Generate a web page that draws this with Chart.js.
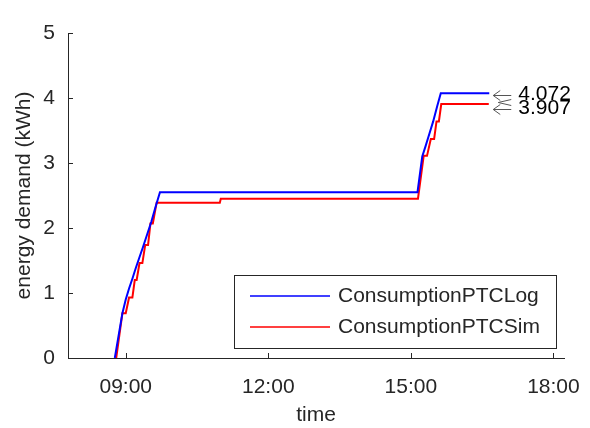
<!DOCTYPE html>
<html>
<head>
<meta charset="utf-8">
<script src="https://cdn.jsdelivr.net/npm/chart.js@4"></script>
<style>
  body { margin: 0; background: #fff; }
</style>
</head>
<body>
<canvas id="energyChart" width="590" height="428"></canvas>
<script>
    // time in hours of the day, energy in kWh
    const logTime = [8.77, 8.93, 9.00, 9.07, 9.14, 9.21, 9.28, 9.36, 9.45, 9.54, 9.63, 9.72, 15.14, 15.24, 15.31, 15.39, 15.47, 15.55, 15.63, 16.65];
    const logKwh  = [0, 0.69, 0.90, 1.07, 1.22, 1.38, 1.53, 1.70, 1.90, 2.10, 2.33, 2.55, 2.55, 3.10, 3.26, 3.45, 3.64, 3.86, 4.072, 4.072];

    const simTime = [8.80, 8.93, 9.00, 9.07, 9.14, 9.19, 9.23, 9.29, 9.35, 9.41, 9.47, 9.52, 9.57, 9.65, 10.98, 11.00, 15.15, 15.27, 15.34, 15.42, 15.49, 15.54, 15.59, 15.64, 16.64];
    const simKwh  = [0, 0.69, 0.69, 0.93, 0.93, 1.20, 1.20, 1.46, 1.46, 1.74, 1.74, 2.07, 2.07, 2.39, 2.39, 2.45, 2.45, 3.11, 3.11, 3.37, 3.37, 3.64, 3.64, 3.907, 3.907];

    const xTicks = [9, 12, 15, 18];
    const xTickLabels = ['09:00', '12:00', '15:00', '18:00'];
    const endValues = [4.072, 3.907];

    const FONT = '"Liberation Sans", Arial, sans-serif';
    const INK = '#262626';
    Chart.defaults.font.family = FONT;
    Chart.defaults.font.size = 21;
    Chart.defaults.color = INK;

    const toPoints = (xs, ys) => xs.map((x, i) => ({ x: x, y: ys[i] }));

    // ticks inside the axes, boxed legend and end-value arrows (MATLAB look)
    const matlabExtras = {
        id: 'matlabExtras',
        afterDraw(chart) {
            const ctx = chart.ctx;
            const xs = chart.scales.x, ys = chart.scales.y;
            const area = chart.chartArea;
            ctx.save();
            ctx.strokeStyle = INK;
            ctx.lineWidth = 1;
            ctx.beginPath();
            xTicks.forEach(v => {
                const px = Math.round(xs.getPixelForValue(v)) + 0.5;
                ctx.moveTo(px, area.bottom);
                ctx.lineTo(px, area.bottom - 5);
            });
            ys.ticks.forEach(t => {
                const py = Math.round(ys.getPixelForValue(t.value)) + 0.5;
                ctx.moveTo(area.left, py);
                ctx.lineTo(area.left + 5, py);
            });
            ctx.stroke();

            // legend
            const box = { x: 234.5, y: 275.5, w: 322, h: 73 };
            ctx.fillStyle = '#fff';
            ctx.fillRect(box.x, box.y, box.w, box.h);
            ctx.strokeRect(box.x, box.y, box.w, box.h);
            ctx.font = '21px ' + FONT;
            ctx.textBaseline = 'middle';
            chart.data.datasets.forEach((ds, i) => {
                const ly = 296 + i * 31;
                ctx.strokeStyle = ds.borderColor;
                ctx.lineWidth = 1.5;
                ctx.beginPath();
                ctx.moveTo(250, ly);
                ctx.lineTo(330, ly);
                ctx.stroke();
                ctx.fillStyle = INK;
                ctx.fillText(ds.label, 338, ly);
            });

            // end value annotations
            const lastX = Math.max(logTime[logTime.length - 1], simTime[simTime.length - 1]);
            const headX = xs.getPixelForValue(lastX) + 4;
            const arrowY = [95, 109];
            const textY = [94, 108];
            ctx.strokeStyle = '#555';
            ctx.lineWidth = 1;
            endValues.forEach((v, i) => {
                const ay = arrowY[i] + 0.5;
                ctx.beginPath();
                ctx.moveTo(headX + 18, ay);
                ctx.lineTo(headX, ay);
                ctx.moveTo(headX + 7, ay - 5);
                ctx.lineTo(headX, ay);
                ctx.lineTo(headX + 7, ay + 5);
                ctx.stroke();
            });
            ctx.beginPath();
            ctx.moveTo(headX + 18, 99.5);
            ctx.lineTo(headX + 5, 102.5);
            ctx.lineTo(headX + 18, 105.5);
            ctx.stroke();
            ctx.fillStyle = '#000';
            endValues.forEach((v, i) => {
                ctx.fillText(v.toFixed(3), headX + 25, textY[i]);
            });
            ctx.restore();
        }
    };

    new Chart(document.getElementById('energyChart'), {
        type: 'line',
        data: {
            datasets: [{
                label: 'ConsumptionPTCLog',
                data: toPoints(logTime, logKwh),
                borderColor: '#0000ff',
                borderWidth: 2,
                pointRadius: 0,
                tension: 0
            }, {
                label: 'ConsumptionPTCSim',
                data: toPoints(simTime, simKwh),
                borderColor: '#ff0000',
                borderWidth: 2,
                pointRadius: 0,
                tension: 0
            }]
        },
        options: {
            responsive: false,
            animation: false,
            layout: { padding: { top: 33, right: 26, left: 0, bottom: 0 } },
            plugins: {
                legend: { display: false },
                tooltip: { enabled: false }
            },
            scales: {
                x: {
                    type: 'linear',
                    min: 7.785,
                    max: 18.223,
                    afterBuildTicks: scale => { scale.ticks = xTicks.map(v => ({ value: v })); },
                    afterFit: scale => {
                        scale.height = 70;
                        scale.paddingLeft = 0;
                        scale.paddingRight = 0;
                    },
                    grid: { display: false, drawTicks: false },
                    border: { display: true, color: INK, width: 1 },
                    ticks: {
                        padding: 17,
                        maxRotation: 0,
                        callback: (v, i) => xTickLabels[i]
                    },
                    title: { display: true, text: 'time', padding: { top: 0, bottom: 0 } }
                },
                y: {
                    min: 0,
                    max: 5,
                    afterFit: scale => {
                        scale.width = 68;
                        scale.paddingTop = 0;
                        scale.paddingBottom = 0;
                    },
                    grid: { display: false, drawTicks: false },
                    border: { display: true, color: INK, width: 1 },
                    ticks: { stepSize: 1, padding: 13 },
                    title: { display: true, text: 'energy demand (kWh)', padding: { top: 12, bottom: 0 } }
                }
            }
        },
        plugins: [matlabExtras]
    });
</script>
</body>
</html>
